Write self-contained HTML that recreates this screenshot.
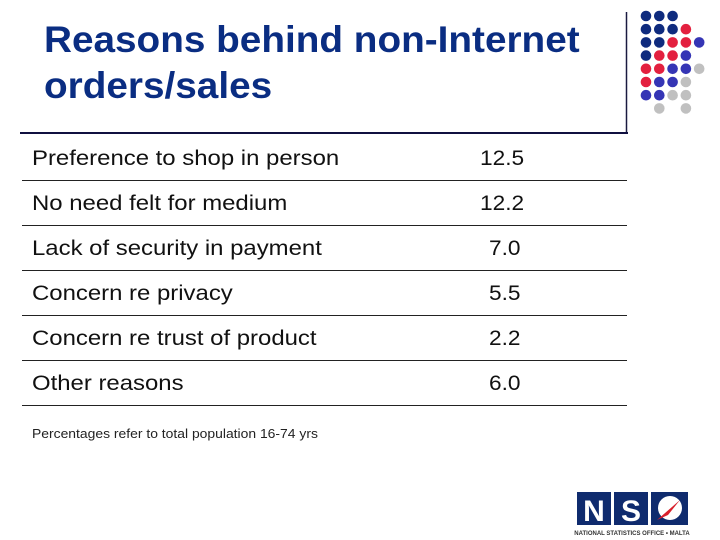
<!DOCTYPE html>
<html><head><meta charset="utf-8"><style>body{margin:0;background:#fff}svg{display:block}</style></head>
<body>
<svg width="720" height="540" viewBox="0 0 720 540" xmlns="http://www.w3.org/2000/svg" font-family="Liberation Sans, Arial, sans-serif">
<g fill="#0a2d82" font-weight="bold" font-size="37">
<text transform="translate(44,52) scale(1.047,1)">Reasons behind non-Internet</text>
<text transform="translate(44,98) scale(1.047,1)">orders/sales</text>
</g>
<line x1="626.5" y1="12" x2="626.5" y2="134" stroke="#1a1a40" stroke-width="1.5"/>
<line x1="20" y1="133" x2="628" y2="133" stroke="#101040" stroke-width="2"/>
<g id="dots"></g>
<g id="table" font-size="21" fill="#111"></g>
<text transform="translate(32,438) scale(1.07,1)" font-size="13" fill="#222">Percentages refer to total population 16-74 yrs</text>
<g>
<rect x="577" y="492" width="34" height="33" fill="#0f2b6e"/>
<rect x="614" y="492" width="34" height="33" fill="#0f2b6e"/>
<rect x="651" y="492" width="37" height="33" fill="#0f2b6e"/>
<text x="594" y="521" font-size="30" font-weight="bold" fill="#fff" text-anchor="middle">N</text>
<text x="631" y="521" font-size="30" font-weight="bold" fill="#fff" text-anchor="middle">S</text>
<circle cx="670" cy="508" r="12" fill="#fff"/>
<polygon points="657,520 680,500 668,515" fill="#d8202c"/>
<text x="632" y="535" font-size="6" font-weight="bold" fill="#333" text-anchor="middle">NATIONAL STATISTICS OFFICE • MALTA</text>
</g>
</svg>
<script>
const reasons=["Preference to shop in person","No need felt for medium","Lack of security in payment","Concern re privacy","Concern re trust of product","Other reasons"];
const values=[12.5,12.2,7.0,5.5,2.2,6.0];
const dotRows=["NNN","NNNR","NNRRB","NRRB","RRBBG","RBBG","BBGG","_G_G"];
const ns="http://www.w3.org/2000/svg";
const t=document.getElementById('table');
reasons.forEach((r,i)=>{
  const y=135+i*45;
  const a=document.createElementNS(ns,'text');a.setAttribute('transform','translate(32,'+(y+30)+') scale(1.14,1)');a.textContent=r;
  
  
  t.appendChild(a);
  const v=document.createElementNS(ns,'text');const vx=values[i]>=10?480:489;v.setAttribute('transform','translate('+vx+','+(y+30)+') scale(1.08,1)');v.textContent=values[i].toFixed(1);
  
  
  t.appendChild(v);
  const l=document.createElementNS(ns,'line');l.setAttribute('x1',22);l.setAttribute('x2',627);l.setAttribute('y1',y+45.5);l.setAttribute('y2',y+45.5);l.setAttribute('stroke','#222');l.setAttribute('stroke-width','1');
  
  
  t.appendChild(l);
});
const col={N:"#0f2b7e",R:"#e3203f",B:"#3535b5",G:"#c0c0c0"};
const d=document.getElementById('dots');
dotRows.forEach((row,ri)=>{[...row].forEach((c,ci)=>{
  if(c==='_')return;
  const e=document.createElementNS(ns,'circle');e.setAttribute('cx',646+ci*13.3);e.setAttribute('cy',16+ri*13.2);e.setAttribute('r',5.3);e.setAttribute('fill',col[c]);
  
  
  d.appendChild(e);
});});
</script>
</body></html>
